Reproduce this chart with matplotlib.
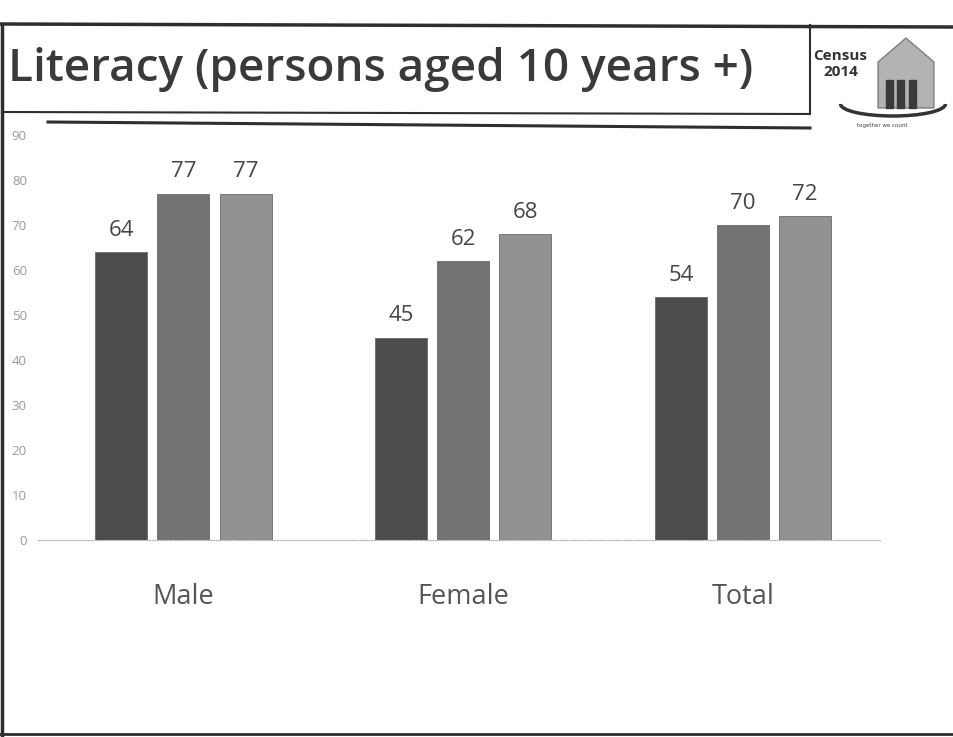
import numpy as np
import matplotlib.pyplot as plt
from matplotlib.patches import Rectangle, Arc, Polygon
from matplotlib.lines import Line2D

# values
categories = ['Male', 'Female', 'Total']
census_a = [64, 45, 54]
census_b = [77, 62, 70]
census_c = [77, 68, 72]
y_ticks = list(range(0, 100, 10))

bar_colors = ['#4c4c4c', '#737373', '#929292']
label_color = '#454545'

W, H = 954, 737
fig = plt.figure(figsize=(W / 100, H / 100), dpi=100)


def fx(px):
    return px / W


def fy(py):
    return 1 - py / H


# slide frame and title box
frame = dict(color='#2e2e2e', transform=fig.transFigure)
fig.add_artist(Line2D([0, 1], [fy(24), fy(27)], lw=2.5, **frame))
fig.add_artist(Line2D([fx(2), fx(2)], [fy(24), fy(735)], lw=2.5, **frame))
fig.add_artist(Line2D([0, 1], [fy(734), fy(734)], lw=2, **frame))
fig.add_artist(Line2D([fx(2), fx(810)], [fy(112), fy(114)], lw=1.5, **frame))
fig.add_artist(Line2D([fx(810), fx(810)], [fy(25), fy(114)], lw=1.5, **frame))
fig.add_artist(Line2D([fx(48), fx(810)], [fy(122), fy(128)], lw=2.2, **frame))

fig.text(fx(8), fy(69), 'Literacy (persons aged 10 years +)', fontsize=33,
         fontweight='semibold', family='Open Sans', color='#3a3a3a',
         va='center', ha='left')

# rough census logo
fig.add_artist(Polygon([[fx(878), fy(108)], [fx(878), fy(62)], [fx(906), fy(38)],
                        [fx(934), fy(62)], [fx(934), fy(108)]],
                       closed=True, transform=fig.transFigure, facecolor='#a0a0a0',
                       edgecolor='#6a6a6a', alpha=0.8))
for px in [886, 897, 909]:
    fig.add_artist(Rectangle((fx(px), fy(108)), fx(7), fy(80) - fy(108),
                             transform=fig.transFigure, color='#3a3a3a'))
fig.add_artist(Arc((fx(893), fy(104)), fx(105), fy(92) - fy(116), theta1=180, theta2=360,
                   transform=fig.transFigure, color='#333333', lw=2.5))
fig.text(fx(813), fy(56), 'Census', fontsize=11, fontweight='bold', color='#333333',
         family='Open Sans', va='center', ha='left')
fig.text(fx(823), fy(72), '2014', fontsize=11, fontweight='bold', color='#333333',
         family='Open Sans', va='center', ha='left')
fig.text(fx(882), fy(126), 'together we count', fontsize=4, color='#444444',
         va='center', ha='center')

# the chart
ax = fig.add_axes([fx(38), fy(540), fx(880) - fx(38), fy(135) - fy(540)])

x = np.arange(len(categories))
width = 0.186
step = 0.222
for i, (vals, col) in enumerate(zip([census_a, census_b, census_c], bar_colors)):
    bars = ax.bar(x + (i - 1) * step, vals, width, color=col, edgecolor='#6a6a6a',
                  linewidth=0.6)
    ax.bar_label(bars, labels=[str(v) for v in vals], padding=8, fontsize=16,
                 color=label_color, family='Open Sans')

ax.set_xlim(-0.52, 2.49)
ax.set_ylim(0, 90)
ax.set_yticks(y_ticks)
ax.set_yticklabels([str(t) for t in y_ticks], color='#9a9a9a', fontsize=9.5,
                   family='Open Sans')
ax.set_xticks(x)
ax.set_xticklabels(categories, fontsize=19.5, color='#555555', family='Open Sans')
ax.tick_params(axis='both', length=0)
ax.tick_params(axis='y', pad=8)
ax.tick_params(axis='x', pad=31)

for side in ['top', 'right', 'left']:
    ax.spines[side].set_visible(False)
ax.spines['bottom'].set_color('#b0b0b0')
ax.spines['bottom'].set_linestyle((0, (1, 1.5)))
ax.spines['bottom'].set_linewidth(0.8)

fig.savefig('out.png', dpi=100, facecolor='white')
